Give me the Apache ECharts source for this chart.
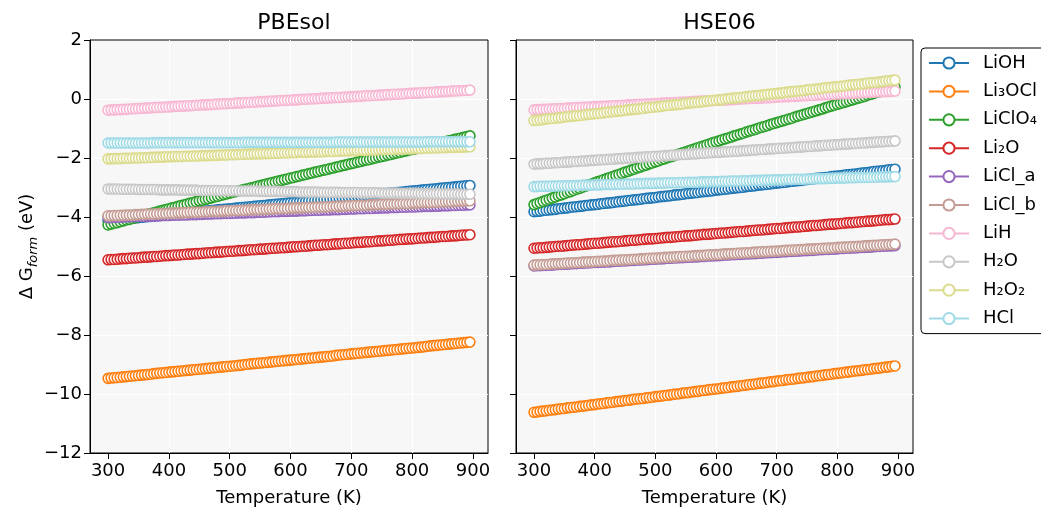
<!DOCTYPE html>
<html>
<head>
<meta charset="utf-8">
<script src="https://cdn.jsdelivr.net/npm/echarts@6/dist/echarts.min.js"></script>
<style>
  html, body { margin: 0; padding: 0; background: #fff; }
  #main { width: 1041px; height: 509px; }
</style>
</head>
<body>
<div id="main"></div>
<script>
const temperature = [300,305,310,315,320,325,330,335,340,345,350,355,360,365,370,375,380,385,390,395,
  400,405,410,415,420,425,430,435,440,445,450,455,460,465,470,475,480,485,490,495,
  500,505,510,515,520,525,530,535,540,545,550,555,560,565,570,575,580,585,590,595,
  600,605,610,615,620,625,630,635,640,645,650,655,660,665,670,675,680,685,690,695,
  700,705,710,715,720,725,730,735,740,745,750,755,760,765,770,775,780,785,790,795,
  800,805,810,815,820,825,830,835,840,845,850,855,860,865,870,875,880,885,890,895];
const xTicks = [300, 400, 500, 600, 700, 800, 900];
const names = ["LiOH", "Li₃OCl", "LiClO₄", "Li₂O", "LiCl_a", "LiCl_b", "LiH", "H₂O", "H₂O₂", "HCl"];
const colors = ["#1f77b4", "#ff7f0e", "#2ca02c", "#d62728", "#9467bd", "#c49c94", "#f7b6d2", "#c7c7c7", "#dbdb8d", "#9edae5"];

// PBEsol
const pbeLiOH = [-4.12,-4.11,-4.10,-4.09,-4.08,-4.07,-4.06,-4.05,-4.04,-4.03,
  -4.02,-4.01,-4.00,-3.99,-3.98,-3.97,-3.96,-3.95,-3.94,-3.93,
  -3.92,-3.91,-3.90,-3.89,-3.88,-3.87,-3.86,-3.85,-3.84,-3.83,
  -3.82,-3.81,-3.80,-3.79,-3.78,-3.77,-3.76,-3.75,-3.74,-3.73,
  -3.72,-3.71,-3.70,-3.69,-3.68,-3.67,-3.66,-3.65,-3.64,-3.63,
  -3.62,-3.61,-3.60,-3.59,-3.58,-3.57,-3.56,-3.55,-3.54,-3.53,
  -3.52,-3.51,-3.50,-3.49,-3.48,-3.47,-3.46,-3.45,-3.44,-3.43,
  -3.42,-3.41,-3.40,-3.39,-3.38,-3.37,-3.36,-3.35,-3.34,-3.33,
  -3.32,-3.31,-3.30,-3.29,-3.28,-3.27,-3.26,-3.25,-3.24,-3.23,
  -3.22,-3.21,-3.20,-3.19,-3.18,-3.17,-3.16,-3.15,-3.14,-3.13,
  -3.12,-3.11,-3.10,-3.09,-3.08,-3.07,-3.06,-3.05,-3.04,-3.03,
  -3.02,-3.01,-3.00,-2.99,-2.98,-2.97,-2.96,-2.95,-2.94,-2.93];
const pbeLi3OCl = [-9.47,-9.46,-9.45,-9.44,-9.43,-9.42,-9.41,-9.40,-9.39,-9.38,
  -9.37,-9.36,-9.35,-9.34,-9.33,-9.31,-9.30,-9.29,-9.28,-9.27,
  -9.26,-9.25,-9.24,-9.23,-9.22,-9.21,-9.20,-9.19,-9.18,-9.17,
  -9.16,-9.15,-9.14,-9.13,-9.12,-9.11,-9.10,-9.09,-9.08,-9.07,
  -9.06,-9.05,-9.04,-9.03,-9.02,-9.00,-8.99,-8.98,-8.97,-8.96,
  -8.95,-8.94,-8.93,-8.92,-8.91,-8.90,-8.89,-8.88,-8.87,-8.86,
  -8.85,-8.84,-8.83,-8.82,-8.81,-8.80,-8.79,-8.78,-8.77,-8.76,
  -8.75,-8.74,-8.73,-8.72,-8.71,-8.69,-8.68,-8.67,-8.66,-8.65,
  -8.64,-8.63,-8.62,-8.61,-8.60,-8.59,-8.58,-8.57,-8.56,-8.55,
  -8.54,-8.53,-8.52,-8.51,-8.50,-8.49,-8.48,-8.47,-8.46,-8.45,
  -8.44,-8.43,-8.42,-8.41,-8.40,-8.38,-8.37,-8.36,-8.35,-8.34,
  -8.33,-8.32,-8.31,-8.30,-8.29,-8.28,-8.27,-8.26,-8.25,-8.24];
const pbeLiClO4 = [-4.27,-4.24,-4.21,-4.19,-4.16,-4.13,-4.10,-4.08,-4.05,-4.02,
  -3.99,-3.97,-3.94,-3.91,-3.88,-3.86,-3.83,-3.80,-3.77,-3.75,
  -3.72,-3.69,-3.67,-3.64,-3.61,-3.59,-3.56,-3.53,-3.51,-3.48,
  -3.45,-3.43,-3.40,-3.38,-3.35,-3.32,-3.30,-3.27,-3.24,-3.22,
  -3.19,-3.16,-3.14,-3.11,-3.09,-3.06,-3.04,-3.01,-2.99,-2.96,
  -2.93,-2.91,-2.88,-2.86,-2.83,-2.81,-2.78,-2.76,-2.73,-2.71,
  -2.68,-2.66,-2.63,-2.61,-2.58,-2.56,-2.53,-2.51,-2.48,-2.46,
  -2.43,-2.41,-2.39,-2.36,-2.34,-2.31,-2.29,-2.26,-2.24,-2.21,
  -2.19,-2.17,-2.14,-2.12,-2.09,-2.07,-2.05,-2.02,-2.00,-1.97,
  -1.95,-1.93,-1.90,-1.88,-1.85,-1.83,-1.81,-1.78,-1.76,-1.73,
  -1.71,-1.69,-1.66,-1.64,-1.61,-1.59,-1.56,-1.54,-1.52,-1.49,
  -1.47,-1.44,-1.42,-1.40,-1.37,-1.35,-1.32,-1.30,-1.27,-1.25];
const pbeLi2O = [-5.45,-5.44,-5.44,-5.43,-5.42,-5.41,-5.41,-5.40,-5.39,-5.39,
  -5.38,-5.37,-5.36,-5.36,-5.35,-5.34,-5.34,-5.33,-5.32,-5.31,
  -5.31,-5.30,-5.29,-5.29,-5.28,-5.27,-5.26,-5.26,-5.25,-5.24,
  -5.24,-5.23,-5.22,-5.21,-5.21,-5.20,-5.19,-5.19,-5.18,-5.17,
  -5.16,-5.16,-5.15,-5.14,-5.14,-5.13,-5.12,-5.11,-5.11,-5.10,
  -5.09,-5.09,-5.08,-5.07,-5.06,-5.06,-5.05,-5.04,-5.04,-5.03,
  -5.02,-5.01,-5.01,-5.00,-4.99,-4.99,-4.98,-4.97,-4.96,-4.96,
  -4.95,-4.94,-4.94,-4.93,-4.92,-4.91,-4.91,-4.90,-4.89,-4.89,
  -4.88,-4.87,-4.86,-4.86,-4.85,-4.84,-4.84,-4.83,-4.82,-4.81,
  -4.81,-4.80,-4.79,-4.79,-4.78,-4.77,-4.76,-4.76,-4.75,-4.74,
  -4.74,-4.73,-4.72,-4.71,-4.71,-4.70,-4.69,-4.69,-4.68,-4.67,
  -4.66,-4.66,-4.65,-4.64,-4.64,-4.63,-4.62,-4.61,-4.61,-4.60];
const pbeLiClA = [-4.02,-4.02,-4.01,-4.01,-4.01,-4.00,-4.00,-3.99,-3.99,-3.99,
  -3.98,-3.98,-3.98,-3.97,-3.97,-3.97,-3.96,-3.96,-3.95,-3.95,
  -3.95,-3.94,-3.94,-3.94,-3.93,-3.93,-3.93,-3.92,-3.92,-3.92,
  -3.91,-3.91,-3.90,-3.90,-3.90,-3.89,-3.89,-3.89,-3.88,-3.88,
  -3.88,-3.87,-3.87,-3.86,-3.86,-3.86,-3.85,-3.85,-3.85,-3.84,
  -3.84,-3.84,-3.83,-3.83,-3.82,-3.82,-3.82,-3.81,-3.81,-3.81,
  -3.80,-3.80,-3.80,-3.79,-3.79,-3.79,-3.78,-3.78,-3.77,-3.77,
  -3.77,-3.76,-3.76,-3.76,-3.75,-3.75,-3.75,-3.74,-3.74,-3.73,
  -3.73,-3.73,-3.72,-3.72,-3.72,-3.71,-3.71,-3.71,-3.70,-3.70,
  -3.69,-3.69,-3.69,-3.68,-3.68,-3.68,-3.67,-3.67,-3.67,-3.66,
  -3.66,-3.66,-3.65,-3.65,-3.64,-3.64,-3.64,-3.63,-3.63,-3.63,
  -3.62,-3.62,-3.62,-3.61,-3.61,-3.60,-3.60,-3.60,-3.59,-3.59];
const pbeLiClB = [-3.96,-3.96,-3.95,-3.95,-3.94,-3.94,-3.93,-3.93,-3.93,-3.92,
  -3.92,-3.91,-3.91,-3.90,-3.90,-3.90,-3.89,-3.89,-3.88,-3.88,
  -3.87,-3.87,-3.87,-3.86,-3.86,-3.85,-3.85,-3.84,-3.84,-3.84,
  -3.83,-3.83,-3.82,-3.82,-3.81,-3.81,-3.81,-3.80,-3.80,-3.79,
  -3.79,-3.78,-3.78,-3.78,-3.77,-3.77,-3.76,-3.76,-3.75,-3.75,
  -3.75,-3.74,-3.74,-3.73,-3.73,-3.72,-3.72,-3.72,-3.71,-3.71,
  -3.70,-3.70,-3.69,-3.69,-3.69,-3.68,-3.68,-3.67,-3.67,-3.66,
  -3.66,-3.66,-3.65,-3.65,-3.64,-3.64,-3.63,-3.63,-3.63,-3.62,
  -3.62,-3.61,-3.61,-3.60,-3.60,-3.60,-3.59,-3.59,-3.58,-3.58,
  -3.57,-3.57,-3.57,-3.56,-3.56,-3.55,-3.55,-3.54,-3.54,-3.54,
  -3.53,-3.53,-3.52,-3.52,-3.51,-3.51,-3.51,-3.50,-3.50,-3.49,
  -3.49,-3.48,-3.48,-3.48,-3.47,-3.47,-3.46,-3.46,-3.45,-3.45];
const pbeLiH = [-0.38,-0.37,-0.37,-0.36,-0.36,-0.35,-0.35,-0.34,-0.33,-0.33,
  -0.32,-0.32,-0.31,-0.31,-0.30,-0.29,-0.29,-0.28,-0.28,-0.27,
  -0.27,-0.26,-0.25,-0.25,-0.24,-0.24,-0.23,-0.23,-0.22,-0.21,
  -0.21,-0.20,-0.20,-0.19,-0.19,-0.18,-0.17,-0.17,-0.16,-0.16,
  -0.15,-0.15,-0.14,-0.13,-0.13,-0.12,-0.12,-0.11,-0.11,-0.10,
  -0.09,-0.09,-0.08,-0.08,-0.07,-0.07,-0.06,-0.05,-0.05,-0.04,
  -0.04,-0.03,-0.03,-0.02,-0.01,-0.01,0.00,0.00,0.01,0.01,
  0.02,0.03,0.03,0.04,0.04,0.05,0.05,0.06,0.07,0.07,
  0.08,0.08,0.09,0.09,0.10,0.11,0.11,0.12,0.12,0.13,
  0.13,0.14,0.15,0.15,0.16,0.16,0.17,0.17,0.18,0.19,
  0.19,0.20,0.20,0.21,0.21,0.22,0.23,0.23,0.24,0.24,
  0.25,0.25,0.26,0.27,0.27,0.28,0.28,0.29,0.29,0.30];
const pbeH2O = [-3.05,-3.05,-3.05,-3.05,-3.06,-3.06,-3.06,-3.06,-3.06,-3.06,
  -3.07,-3.07,-3.07,-3.07,-3.07,-3.07,-3.07,-3.08,-3.08,-3.08,
  -3.08,-3.08,-3.08,-3.08,-3.09,-3.09,-3.09,-3.09,-3.09,-3.09,
  -3.10,-3.10,-3.10,-3.10,-3.10,-3.10,-3.10,-3.11,-3.11,-3.11,
  -3.11,-3.11,-3.11,-3.12,-3.12,-3.12,-3.12,-3.12,-3.12,-3.12,
  -3.13,-3.13,-3.13,-3.13,-3.13,-3.13,-3.13,-3.14,-3.14,-3.14,
  -3.14,-3.14,-3.14,-3.15,-3.15,-3.15,-3.15,-3.15,-3.15,-3.15,
  -3.16,-3.16,-3.16,-3.16,-3.16,-3.16,-3.16,-3.17,-3.17,-3.17,
  -3.17,-3.17,-3.17,-3.18,-3.18,-3.18,-3.18,-3.18,-3.18,-3.18,
  -3.19,-3.19,-3.19,-3.19,-3.19,-3.19,-3.20,-3.20,-3.20,-3.20,
  -3.20,-3.20,-3.20,-3.21,-3.21,-3.21,-3.21,-3.21,-3.21,-3.21,
  -3.22,-3.22,-3.22,-3.22,-3.22,-3.22,-3.23,-3.23,-3.23,-3.23];
const pbeH2O2 = [-2.03,-2.03,-2.02,-2.02,-2.02,-2.01,-2.01,-2.01,-2.00,-2.00,
  -2.00,-1.99,-1.99,-1.99,-1.98,-1.98,-1.97,-1.97,-1.97,-1.96,
  -1.96,-1.96,-1.95,-1.95,-1.95,-1.94,-1.94,-1.94,-1.93,-1.93,
  -1.93,-1.92,-1.92,-1.92,-1.91,-1.91,-1.91,-1.90,-1.90,-1.90,
  -1.89,-1.89,-1.89,-1.88,-1.88,-1.87,-1.87,-1.87,-1.86,-1.86,
  -1.86,-1.85,-1.85,-1.85,-1.84,-1.84,-1.84,-1.83,-1.83,-1.83,
  -1.82,-1.82,-1.82,-1.81,-1.81,-1.81,-1.80,-1.80,-1.80,-1.79,
  -1.79,-1.79,-1.78,-1.78,-1.78,-1.77,-1.77,-1.76,-1.76,-1.76,
  -1.75,-1.75,-1.75,-1.74,-1.74,-1.74,-1.73,-1.73,-1.73,-1.72,
  -1.72,-1.72,-1.71,-1.71,-1.71,-1.70,-1.70,-1.70,-1.69,-1.69,
  -1.69,-1.68,-1.68,-1.68,-1.67,-1.67,-1.66,-1.66,-1.66,-1.65,
  -1.65,-1.65,-1.64,-1.64,-1.64,-1.63,-1.63,-1.63,-1.62,-1.62];
const pbeHCl = [-1.49,-1.49,-1.49,-1.49,-1.49,-1.49,-1.49,-1.49,-1.49,-1.49,
  -1.49,-1.49,-1.49,-1.49,-1.49,-1.48,-1.48,-1.48,-1.48,-1.48,
  -1.48,-1.48,-1.48,-1.48,-1.48,-1.48,-1.48,-1.48,-1.48,-1.48,
  -1.48,-1.48,-1.48,-1.48,-1.48,-1.48,-1.48,-1.48,-1.48,-1.48,
  -1.48,-1.48,-1.48,-1.48,-1.48,-1.47,-1.47,-1.47,-1.47,-1.47,
  -1.47,-1.47,-1.47,-1.47,-1.47,-1.47,-1.47,-1.47,-1.47,-1.47,
  -1.47,-1.47,-1.47,-1.47,-1.47,-1.47,-1.47,-1.47,-1.47,-1.47,
  -1.47,-1.47,-1.47,-1.47,-1.47,-1.46,-1.46,-1.46,-1.46,-1.46,
  -1.46,-1.46,-1.46,-1.46,-1.46,-1.46,-1.46,-1.46,-1.46,-1.46,
  -1.46,-1.46,-1.46,-1.46,-1.46,-1.46,-1.46,-1.46,-1.46,-1.46,
  -1.46,-1.46,-1.46,-1.46,-1.46,-1.45,-1.45,-1.45,-1.45,-1.45,
  -1.45,-1.45,-1.45,-1.45,-1.45,-1.45,-1.45,-1.45,-1.45,-1.45];

// HSE06
const hseLiOH = [-3.82,-3.81,-3.80,-3.78,-3.77,-3.76,-3.75,-3.74,-3.72,-3.71,
  -3.70,-3.69,-3.67,-3.66,-3.65,-3.64,-3.63,-3.61,-3.60,-3.59,
  -3.58,-3.57,-3.55,-3.54,-3.53,-3.52,-3.51,-3.49,-3.48,-3.47,
  -3.46,-3.44,-3.43,-3.42,-3.41,-3.40,-3.38,-3.37,-3.36,-3.35,
  -3.34,-3.32,-3.31,-3.30,-3.29,-3.28,-3.26,-3.25,-3.24,-3.23,
  -3.21,-3.20,-3.19,-3.18,-3.17,-3.15,-3.14,-3.13,-3.12,-3.11,
  -3.09,-3.08,-3.07,-3.06,-3.05,-3.03,-3.02,-3.01,-3.00,-2.99,
  -2.97,-2.96,-2.95,-2.94,-2.92,-2.91,-2.90,-2.89,-2.88,-2.86,
  -2.85,-2.84,-2.83,-2.82,-2.80,-2.79,-2.78,-2.77,-2.76,-2.74,
  -2.73,-2.72,-2.71,-2.69,-2.68,-2.67,-2.66,-2.65,-2.63,-2.62,
  -2.61,-2.60,-2.59,-2.57,-2.56,-2.55,-2.54,-2.53,-2.51,-2.50,
  -2.49,-2.48,-2.46,-2.45,-2.44,-2.43,-2.42,-2.40,-2.39,-2.38];
const hseLi3OCl = [-10.62,-10.61,-10.59,-10.58,-10.57,-10.55,-10.54,-10.53,-10.51,-10.50,
  -10.49,-10.47,-10.46,-10.45,-10.44,-10.42,-10.41,-10.40,-10.38,-10.37,
  -10.36,-10.34,-10.33,-10.32,-10.30,-10.29,-10.28,-10.26,-10.25,-10.24,
  -10.22,-10.21,-10.20,-10.18,-10.17,-10.16,-10.15,-10.13,-10.12,-10.11,
  -10.09,-10.08,-10.07,-10.05,-10.04,-10.03,-10.01,-10.00,-9.99,-9.97,
  -9.96,-9.95,-9.93,-9.92,-9.91,-9.89,-9.88,-9.87,-9.85,-9.84,
  -9.83,-9.82,-9.80,-9.79,-9.78,-9.76,-9.75,-9.74,-9.72,-9.71,
  -9.70,-9.68,-9.67,-9.66,-9.64,-9.63,-9.62,-9.60,-9.59,-9.58,
  -9.56,-9.55,-9.54,-9.52,-9.51,-9.50,-9.49,-9.47,-9.46,-9.45,
  -9.43,-9.42,-9.41,-9.39,-9.38,-9.37,-9.35,-9.34,-9.33,-9.31,
  -9.30,-9.29,-9.27,-9.26,-9.25,-9.23,-9.22,-9.21,-9.20,-9.18,
  -9.17,-9.16,-9.14,-9.13,-9.12,-9.10,-9.09,-9.08,-9.06,-9.05];
const hseLiClO4 = [-3.58,-3.54,-3.51,-3.47,-3.43,-3.40,-3.36,-3.32,-3.28,-3.25,
  -3.21,-3.17,-3.14,-3.10,-3.06,-3.03,-2.99,-2.95,-2.91,-2.88,
  -2.84,-2.80,-2.77,-2.73,-2.70,-2.66,-2.63,-2.59,-2.56,-2.52,
  -2.48,-2.45,-2.41,-2.38,-2.34,-2.31,-2.27,-2.24,-2.20,-2.17,
  -2.13,-2.10,-2.06,-2.03,-1.99,-1.96,-1.93,-1.89,-1.86,-1.82,
  -1.79,-1.76,-1.72,-1.69,-1.65,-1.62,-1.59,-1.55,-1.52,-1.48,
  -1.45,-1.42,-1.38,-1.35,-1.32,-1.29,-1.25,-1.22,-1.19,-1.16,
  -1.12,-1.09,-1.06,-1.03,-0.99,-0.96,-0.93,-0.90,-0.86,-0.83,
  -0.80,-0.77,-0.74,-0.71,-0.68,-0.65,-0.61,-0.58,-0.55,-0.52,
  -0.49,-0.46,-0.43,-0.40,-0.37,-0.34,-0.30,-0.27,-0.24,-0.21,
  -0.18,-0.15,-0.12,-0.09,-0.06,-0.03,0.00,0.03,0.06,0.09,
  0.13,0.16,0.19,0.22,0.25,0.28,0.31,0.34,0.37,0.40];
const hseLi2O = [-5.06,-5.05,-5.04,-5.04,-5.03,-5.02,-5.01,-5.00,-4.99,-4.99,
  -4.98,-4.97,-4.96,-4.95,-4.94,-4.94,-4.93,-4.92,-4.91,-4.90,
  -4.89,-4.89,-4.88,-4.87,-4.86,-4.85,-4.84,-4.84,-4.83,-4.82,
  -4.81,-4.80,-4.79,-4.79,-4.78,-4.77,-4.76,-4.75,-4.74,-4.74,
  -4.73,-4.72,-4.71,-4.70,-4.69,-4.69,-4.68,-4.67,-4.66,-4.65,
  -4.64,-4.64,-4.63,-4.62,-4.61,-4.60,-4.59,-4.59,-4.58,-4.57,
  -4.56,-4.55,-4.54,-4.54,-4.53,-4.52,-4.51,-4.50,-4.49,-4.49,
  -4.48,-4.47,-4.46,-4.45,-4.44,-4.44,-4.43,-4.42,-4.41,-4.40,
  -4.39,-4.39,-4.38,-4.37,-4.36,-4.35,-4.34,-4.34,-4.33,-4.32,
  -4.31,-4.30,-4.29,-4.29,-4.28,-4.27,-4.26,-4.25,-4.24,-4.24,
  -4.23,-4.22,-4.21,-4.20,-4.19,-4.19,-4.18,-4.17,-4.16,-4.15,
  -4.14,-4.14,-4.13,-4.12,-4.11,-4.10,-4.09,-4.09,-4.08,-4.07];
const hseLiClA = [-5.66,-5.65,-5.65,-5.64,-5.64,-5.63,-5.63,-5.62,-5.61,-5.61,
  -5.60,-5.60,-5.59,-5.58,-5.58,-5.57,-5.57,-5.56,-5.56,-5.55,
  -5.54,-5.54,-5.53,-5.53,-5.52,-5.52,-5.51,-5.50,-5.50,-5.49,
  -5.49,-5.48,-5.47,-5.47,-5.46,-5.46,-5.45,-5.45,-5.44,-5.43,
  -5.43,-5.42,-5.42,-5.41,-5.40,-5.40,-5.39,-5.39,-5.38,-5.38,
  -5.37,-5.36,-5.36,-5.35,-5.35,-5.34,-5.34,-5.33,-5.32,-5.32,
  -5.31,-5.31,-5.30,-5.29,-5.29,-5.28,-5.28,-5.27,-5.27,-5.26,
  -5.25,-5.25,-5.24,-5.24,-5.23,-5.23,-5.22,-5.21,-5.21,-5.20,
  -5.20,-5.19,-5.18,-5.18,-5.17,-5.17,-5.16,-5.16,-5.15,-5.14,
  -5.14,-5.13,-5.13,-5.12,-5.11,-5.11,-5.10,-5.10,-5.09,-5.09,
  -5.08,-5.07,-5.07,-5.06,-5.06,-5.05,-5.05,-5.04,-5.03,-5.03,
  -5.02,-5.02,-5.01,-5.00,-5.00,-4.99,-4.99,-4.98,-4.98,-4.97];
const hseLiClB = [-5.63,-5.62,-5.62,-5.61,-5.61,-5.60,-5.59,-5.59,-5.58,-5.58,
  -5.57,-5.56,-5.56,-5.55,-5.55,-5.54,-5.53,-5.53,-5.52,-5.52,
  -5.51,-5.50,-5.50,-5.49,-5.49,-5.48,-5.47,-5.47,-5.46,-5.46,
  -5.45,-5.45,-5.44,-5.43,-5.43,-5.42,-5.42,-5.41,-5.40,-5.40,
  -5.39,-5.39,-5.38,-5.37,-5.37,-5.36,-5.36,-5.35,-5.34,-5.34,
  -5.33,-5.33,-5.32,-5.31,-5.31,-5.30,-5.30,-5.29,-5.28,-5.28,
  -5.27,-5.27,-5.26,-5.25,-5.25,-5.24,-5.24,-5.23,-5.22,-5.22,
  -5.21,-5.21,-5.20,-5.19,-5.19,-5.18,-5.18,-5.17,-5.16,-5.16,
  -5.15,-5.15,-5.14,-5.13,-5.13,-5.12,-5.12,-5.11,-5.10,-5.10,
  -5.09,-5.09,-5.08,-5.08,-5.07,-5.06,-5.06,-5.05,-5.05,-5.04,
  -5.03,-5.03,-5.02,-5.02,-5.01,-5.00,-5.00,-4.99,-4.99,-4.98,
  -4.97,-4.97,-4.96,-4.96,-4.95,-4.94,-4.94,-4.93,-4.93,-4.92];
const hseLiH = [-0.37,-0.36,-0.36,-0.35,-0.35,-0.34,-0.34,-0.33,-0.33,-0.32,
  -0.32,-0.31,-0.31,-0.30,-0.29,-0.29,-0.28,-0.28,-0.27,-0.27,
  -0.26,-0.26,-0.25,-0.25,-0.24,-0.24,-0.23,-0.22,-0.22,-0.21,
  -0.21,-0.20,-0.20,-0.19,-0.19,-0.18,-0.18,-0.17,-0.17,-0.16,
  -0.15,-0.15,-0.14,-0.14,-0.13,-0.13,-0.12,-0.12,-0.11,-0.11,
  -0.10,-0.10,-0.09,-0.08,-0.08,-0.07,-0.07,-0.06,-0.06,-0.05,
  -0.05,-0.04,-0.04,-0.03,-0.03,-0.02,-0.02,-0.01,0.00,0.00,
  0.01,0.01,0.02,0.02,0.03,0.03,0.04,0.04,0.05,0.05,
  0.06,0.07,0.07,0.08,0.08,0.09,0.09,0.10,0.10,0.11,
  0.11,0.12,0.12,0.13,0.14,0.14,0.15,0.15,0.16,0.16,
  0.17,0.17,0.18,0.18,0.19,0.19,0.20,0.21,0.21,0.22,
  0.22,0.23,0.23,0.24,0.24,0.25,0.25,0.26,0.26,0.27];
const hseH2O = [-2.21,-2.20,-2.20,-2.19,-2.18,-2.18,-2.17,-2.16,-2.16,-2.15,
  -2.14,-2.14,-2.13,-2.12,-2.12,-2.11,-2.10,-2.10,-2.09,-2.08,
  -2.08,-2.07,-2.06,-2.06,-2.05,-2.04,-2.04,-2.03,-2.02,-2.02,
  -2.01,-2.00,-2.00,-1.99,-1.98,-1.98,-1.97,-1.96,-1.96,-1.95,
  -1.94,-1.94,-1.93,-1.92,-1.92,-1.91,-1.90,-1.90,-1.89,-1.88,
  -1.88,-1.87,-1.86,-1.86,-1.85,-1.84,-1.84,-1.83,-1.82,-1.82,
  -1.81,-1.81,-1.80,-1.79,-1.79,-1.78,-1.77,-1.77,-1.76,-1.75,
  -1.75,-1.74,-1.73,-1.73,-1.72,-1.71,-1.71,-1.70,-1.69,-1.69,
  -1.68,-1.67,-1.67,-1.66,-1.65,-1.65,-1.64,-1.63,-1.63,-1.62,
  -1.61,-1.61,-1.60,-1.59,-1.59,-1.58,-1.57,-1.57,-1.56,-1.55,
  -1.55,-1.54,-1.53,-1.53,-1.52,-1.51,-1.51,-1.50,-1.49,-1.49,
  -1.48,-1.47,-1.47,-1.46,-1.45,-1.45,-1.44,-1.43,-1.43,-1.42];
const hseH2O2 = [-0.73,-0.72,-0.71,-0.70,-0.68,-0.67,-0.66,-0.65,-0.64,-0.63,
  -0.61,-0.60,-0.59,-0.58,-0.57,-0.56,-0.55,-0.53,-0.52,-0.51,
  -0.50,-0.49,-0.48,-0.47,-0.45,-0.44,-0.43,-0.42,-0.41,-0.40,
  -0.38,-0.37,-0.36,-0.35,-0.34,-0.33,-0.32,-0.30,-0.29,-0.28,
  -0.27,-0.26,-0.25,-0.23,-0.22,-0.21,-0.20,-0.19,-0.18,-0.17,
  -0.15,-0.14,-0.13,-0.12,-0.11,-0.10,-0.09,-0.07,-0.06,-0.05,
  -0.04,-0.03,-0.02,0.00,0.01,0.02,0.03,0.04,0.05,0.06,
  0.08,0.09,0.10,0.11,0.12,0.13,0.14,0.16,0.17,0.18,
  0.19,0.20,0.21,0.23,0.24,0.25,0.26,0.27,0.28,0.29,
  0.31,0.32,0.33,0.34,0.35,0.36,0.38,0.39,0.40,0.41,
  0.42,0.43,0.44,0.46,0.47,0.48,0.49,0.50,0.51,0.52,
  0.54,0.55,0.56,0.57,0.58,0.59,0.61,0.62,0.63,0.64];
const hseHCl = [-2.97,-2.97,-2.96,-2.96,-2.96,-2.96,-2.95,-2.95,-2.95,-2.94,
  -2.94,-2.94,-2.94,-2.93,-2.93,-2.93,-2.92,-2.92,-2.92,-2.92,
  -2.91,-2.91,-2.91,-2.90,-2.90,-2.90,-2.90,-2.89,-2.89,-2.89,
  -2.88,-2.88,-2.88,-2.88,-2.87,-2.87,-2.87,-2.86,-2.86,-2.86,
  -2.86,-2.85,-2.85,-2.85,-2.84,-2.84,-2.84,-2.84,-2.83,-2.83,
  -2.83,-2.82,-2.82,-2.82,-2.82,-2.81,-2.81,-2.81,-2.80,-2.80,
  -2.80,-2.80,-2.79,-2.79,-2.79,-2.78,-2.78,-2.78,-2.78,-2.77,
  -2.77,-2.77,-2.76,-2.76,-2.76,-2.76,-2.75,-2.75,-2.75,-2.74,
  -2.74,-2.74,-2.74,-2.73,-2.73,-2.73,-2.72,-2.72,-2.72,-2.72,
  -2.71,-2.71,-2.71,-2.70,-2.70,-2.70,-2.70,-2.69,-2.69,-2.69,
  -2.68,-2.68,-2.68,-2.68,-2.67,-2.67,-2.67,-2.66,-2.66,-2.66,
  -2.66,-2.65,-2.65,-2.65,-2.64,-2.64,-2.64,-2.64,-2.63,-2.63];

const pbesol = [pbeLiOH, pbeLi3OCl, pbeLiClO4, pbeLi2O, pbeLiClA, pbeLiClB, pbeLiH, pbeH2O, pbeH2O2, pbeHCl];
const hse06 = [hseLiOH, hseLi3OCl, hseLiClO4, hseLi2O, hseLiClA, hseLiClB, hseLiH, hseH2O, hseH2O2, hseHCl];

const font = "DejaVu Sans";
const grids = [
  { left: 90, top: 40, width: 398, height: 413 },
  { left: 516, top: 40, width: 397, height: 413 }
];

function makeSeries(values, k, gridIndex) {
  return {
    name: names[k],
    type: "line",
    xAxisIndex: gridIndex,
    yAxisIndex: gridIndex,
    data: temperature.map((t, i) => [t, values[i]]),
    symbol: "circle",
    symbolSize: 10,
    showAllSymbol: true,
    itemStyle: { color: "#fff", borderColor: colors[k], borderWidth: 1.6 },
    lineStyle: { color: colors[k], width: 1.6 },
    emphasis: { disabled: true },
    silent: true
  };
}

function xAxis(gridIndex) {
  return {
    type: "value",
    gridIndex: gridIndex,
    min: 270.25,
    max: 924.75,
    name: "Temperature (K)",
    nameLocation: "middle",
    nameGap: 36,
    nameTextStyle: { fontFamily: font, fontSize: 18, color: "#000" },
    axisLine: { show: true, onZero: false, lineStyle: { color: "#000", width: 1 } },
    axisTick: { show: true, length: 6, lineStyle: { color: "#000" }, customValues: xTicks },
    axisLabel: { fontFamily: font, fontSize: 18, color: "#000", margin: 9, customValues: xTicks },
    splitLine: { show: true, showMinLine: false, showMaxLine: false, lineStyle: { color: "#fff", width: 1 } }
  };
}

function yAxis(gridIndex) {
  const axis = {
    type: "value",
    gridIndex: gridIndex,
    min: -12,
    max: 2,
    interval: 2,
    axisLine: { show: true, onZero: false, lineStyle: { color: "#000", width: 1 } },
    axisTick: { show: true, length: 6, lineStyle: { color: "#000" } },
    axisLabel: {
      show: gridIndex === 0,
      fontFamily: font, fontSize: 18, color: "#000", margin: 8,
      formatter: v => (v < 0 ? "\u2212" + (-v) : String(v))
    },
    splitLine: { show: true, showMinLine: false, showMaxLine: false, lineStyle: { color: "#fff", width: 1 } }
  };
  if (gridIndex === 0) {
    axis.name = "Δ G{sub|form} (eV)";
    axis.nameLocation = "middle";
    axis.nameGap = 42;
    axis.nameTextStyle = {
      fontFamily: font, fontSize: 18, color: "#000", lineHeight: 20,
      rich: { sub: { fontFamily: font, fontSize: 13, fontStyle: "italic", color: "#000", padding: [12, 0, 0, 0] } }
    };
  }
  return axis;
}

const series = [];
pbesol.forEach((v, k) => series.push(makeSeries(v, k, 0)));
hse06.forEach((v, k) => series.push(makeSeries(v, k, 1)));

const option = {
  animation: false,
  backgroundColor: "#fff",
  title: [
    { text: "PBEsol", left: 289, top: 7, textAlign: "center", textStyle: { fontFamily: font, fontSize: 22, fontWeight: "normal", color: "#000" } },
    { text: "HSE06", left: 714.5, top: 7, textAlign: "center", textStyle: { fontFamily: font, fontSize: 22, fontWeight: "normal", color: "#000" } }
  ],
  grid: grids.map(g => Object.assign({
    show: true, backgroundColor: "#f7f7f7", borderColor: "#000", borderWidth: 1,
    containLabel: false, outerBoundsMode: "none"
  }, g)),
  xAxis: [xAxis(0), xAxis(1)],
  yAxis: [yAxis(0), yAxis(1)],
  legend: {
    data: names,
    orient: "vertical",
    left: 921,
    top: 48,
    padding: [5, 40, 5, 7],
    itemWidth: 40,
    itemHeight: 14,
    itemGap: 8.4,
    backgroundColor: "#fff",
    borderColor: "#000",
    borderWidth: 1,
    borderRadius: 4,
    selectedMode: false,
    textStyle: { fontFamily: font, fontSize: 18, color: "#000", lineHeight: 20, padding: [0, 0, 0, 9] }
  },
  series: series
};

const chart = echarts.init(document.getElementById("main"));
chart.setOption(option);
</script>
</body>
</html>
